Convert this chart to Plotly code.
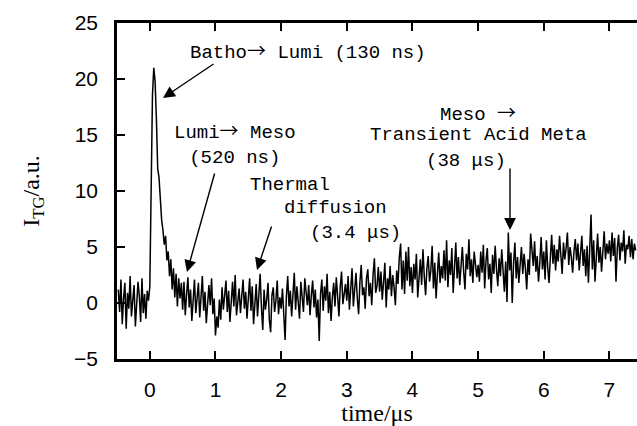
import numpy as np
import plotly.graph_objects as go

# ---- data ----
t_start = -0.48   # first sample time (us)
t_step = 0.02     # sampling interval (us)

seg_pre = [1.2, -0.8, 2.1, -1.9, 0.4, 1.8, -2.3, 0.9, -0.5, 2.4, -1.2, 0.3, 1.6, -2.1, -0.4, 1.9, 0.6, -1.7, 2.2, -0.9, 0.8, -1.4, 1.1, 0.2]
seg_peak = [1.5, 9.0, 18.5, 21.0, 19.8, 16.5, 12.0, 11.2, 8.6, 7.4, 6.5, 5.2, 6.0, 3.8, 4.6, 2.4, 3.9, 1.2, 3.1, 0.5, 2.6, -0.3, 2.2, 0.4, 1.8]
seg_b = [-0.6, 1.9, -1.1, 0.8, 2.3, -0.4, 1.2, -1.6, 0.3, 2.1, -0.9, 0.7, 1.8, -1.3, 0.2, 2.4, -0.7, 1.0, -1.8, 0.5, 1.6, -0.2, 2.2, -1.0, 0.4]
seg_c = [-2.9, -1.2, -2.2, 0.3, -1.5, 1.4, -0.6, 0.9, 2.0, -0.8, 1.1, -1.7, 0.6, 1.9, -0.3, 2.5, -1.1, 0.2, 1.3, -0.9, 0.7, 2.1, -0.5, 1.0, -1.4]
seg_d = [0.8, 2.2, -0.7, 1.5, -1.9, 0.4, 1.7, -1.2, 0.9, 2.6, -0.4, -2.4, 1.2, -0.6, 0.3, 1.8, -1.5, -2.6, 0.7, 1.4, -0.8, 0.2, 2.0, -1.0, 0.5]
seg_e = [-0.5, 1.3, -1.6, -3.3, 0.6, 2.4, -0.3, 1.1, -1.2, 0.8, 2.7, -0.6, 1.5, 0.1, -1.4, 1.9, 0.4, -0.8, 2.2, 0.9, -0.2, 1.6, -1.1, 0.7, 2.0]
seg_f = [-0.4, 1.2, -1.3, 0.3, -3.4, 0.8, 2.1, -0.7, 1.5, 0.2, 2.6, -0.9, 1.0, -1.6, 0.5, 1.8, -0.3, 2.3, 0.6, -1.2, 1.4, 2.8, -0.1, 0.9, 1.7]
seg_g = [0.2, 2.4, -0.6, 1.6, 3.1, -0.3, 1.1, 2.7, 0.4, -1.0, 1.9, 3.4, 0.7, 1.4, -0.5, 2.2, 3.0, 0.6, 1.8, -0.2, 2.5, 4.0, 0.9, 1.5, 3.2]
seg_h = [1.0, 2.8, 0.3, 1.9, 3.6, -0.4, 2.2, 1.2, 3.3, 0.6, 2.5, 1.4, -0.2, 2.9, 1.7, 4.1, 5.3, 1.2, 3.8, 0.8, 4.6, 2.0, 5.0, 1.5, 3.2]
seg_i = [0.9, 3.5, 2.1, 4.4, 0.5, 2.8, 3.9, 1.6, 4.8, 2.4, 0.7, 3.1, 4.2, 1.9, 2.9, 5.1, 1.3, 3.6, 0.4, 2.6, 4.5, 1.8, 3.3, 2.2, 4.7]
seg_j = [2.0, 5.6, 1.4, 3.8, 2.5, 4.9, 0.9, 3.3, 5.4, 2.2, 4.1, 1.6, 3.7, 5.0, 2.8, 1.2, 4.4, 3.0, 5.7, 2.4, 3.9, 1.8, 4.6, 3.1, 2.3]
seg_k = [3.4, 1.9, 4.6, 2.7, 5.2, 1.3, 3.8, 4.9, 2.1, 3.5, 0.9, 4.3, 2.6, 5.1, 3.0, 1.5, 4.0, 2.4, 4.8, 3.2, 1.0, 3.7, 0.1, 6.3, 2.9]
seg_l = [4.5, 0.0, 3.6, 5.4, 2.2, 4.1, 1.8, 3.4, 5.0, 2.6, 4.4, 3.1, 1.2, 3.9, 2.5, 6.2, 4.7, 3.3, 5.5, 2.8, 4.2, 1.9, 3.6, 5.9, 3.0]
seg_m = [4.6, 2.1, 5.6, 3.2, 1.8, 4.0, 6.1, 3.5, 5.2, 2.9, 4.8, 3.7, 6.0, 4.3, 2.6, 5.4, 3.9, 4.9, 6.3, 3.4, 5.0, 4.1, 2.7, 4.6, 5.7]
seg_n = [3.8, 5.3, 2.9, 4.5, 6.0, 3.3, 4.8, 2.4, 5.1, 1.8, 4.2, 7.9, 3.0, 5.6, 1.9, 4.4, 6.2, 3.6, 5.0, 2.8, 4.7, 6.4, 3.9, 5.3, 4.4]
seg_o = [5.6, 3.7, 6.3, 4.2, 5.8, 1.9, 4.9, 6.1, 3.8, 5.4, 4.6, 6.5, 3.5, 5.2, 4.8, 6.0, 4.1, 5.7, 3.9, 5.3, 4.7]

x_ticks = [0, 1, 2, 3, 4, 5, 6, 7]
y_ticks = [-5, 0, 5, 10, 15, 20, 25]

signal = (seg_pre + seg_peak + seg_b + seg_c + seg_d + seg_e + seg_f + seg_g
          + seg_h + seg_i + seg_j + seg_k + seg_l + seg_m + seg_n + seg_o)
time = t_start + t_step * np.arange(len(signal))

# ---- layout geometry ----
W, H = 637, 426
ML, MR, MT, MB = 117, 0, 23, 67
XR = [-0.5, 7.42]
YR = [-5, 25]
pw = W - ML - MR
ph = H - MT - MB


def px2x(px):
    return XR[0] + (px - ML) / pw * (XR[1] - XR[0])


def py2y(py):
    return YR[0] + (H - MB - py) / ph * (YR[1] - YR[0])


fig = go.Figure()
fig.add_trace(go.Scatter(x=time, y=signal, mode="lines",
                         line=dict(color="black", width=1.5),
                         showlegend=False, hoverinfo="skip"))

ARW = '<span style="font-family:\'Noto Sans CJK JP\'">→</span>'
mono = dict(family="Liberation Mono, DejaVu Sans Mono, monospace", size=19, color="black")
texts = [
    ("Batho" + ARW + " Lumi (130 ns)", 188, 50, "left"),
    ("Lumi" + ARW + " Meso<br>(520 ns)", 235, 142, "center"),
    ("Thermal", 248, 185, "left"),
    ("diffusion", 282, 208, "left"),
    ("(3.4 μs)", 308, 233, "left"),
    ("Meso " + ARW, 478, 112, "center"),
    ("Transient Acid Meta", 478, 135, "center"),
    ("(38 μs)", 466, 161, "center"),
]
annotations = []
for txt, px, py, anc in texts:
    annotations.append(dict(text=txt, x=px2x(px), y=py2y(py), xref="x", yref="y",
                            xanchor=anc, yanchor="middle", align="center",
                            showarrow=False, font=mono))

arrows = [
    ((215, 63), (163, 98)),
    ((215, 172), (187, 272)),
    ((272, 225), (257, 270)),
    ((510, 167), (510, 230)),
]
for (tx, ty), (hx, hy) in arrows:
    annotations.append(dict(text="", x=px2x(hx), y=py2y(hy), ax=px2x(tx), ay=py2y(ty),
                            xref="x", yref="y", axref="x", ayref="y",
                            showarrow=True, arrowhead=2, arrowsize=1.7, arrowwidth=1.4,
                            arrowcolor="black", standoff=0, startstandoff=0))

tickfont = dict(family="Liberation Sans, Arial, sans-serif", size=21, color="black")
titlefont = dict(family="Liberation Serif, Times New Roman, serif", size=24, color="black")

fig.update_layout(
    width=W, height=H,
    margin=dict(l=ML, r=MR, t=MT, b=MB, pad=0),
    paper_bgcolor="white", plot_bgcolor="white",
    annotations=annotations,
    xaxis=dict(range=XR, tickvals=x_ticks, ticks="inside", ticklen=8, tickwidth=2,
               tickcolor="black", showline=True, linecolor="black", linewidth=2.5,
               mirror="ticks", showgrid=False, zeroline=False, tickfont=tickfont,
               ticklabelstandoff=10,
               title=dict(text="time/μs", font=titlefont, standoff=8)),
    yaxis=dict(range=YR, tickvals=y_ticks, ticks="inside", ticklen=8, tickwidth=2,
               tickcolor="black", showline=True, linecolor="black", linewidth=2.5,
               mirror=False, showgrid=False, zeroline=False, tickfont=tickfont,
               ticklabelstandoff=12,
               title=dict(text="I<sub>TG</sub>/a.u.", font=titlefont, standoff=28)),
    yaxis2=dict(range=YR, tickvals=y_ticks, ticks="inside", ticklen=8, tickwidth=2,
                tickcolor="black", showline=False, showticklabels=False,
                showgrid=False, zeroline=False, overlaying="y", side="right",
                matches="y"),
)

fig.write_html("out.html")
